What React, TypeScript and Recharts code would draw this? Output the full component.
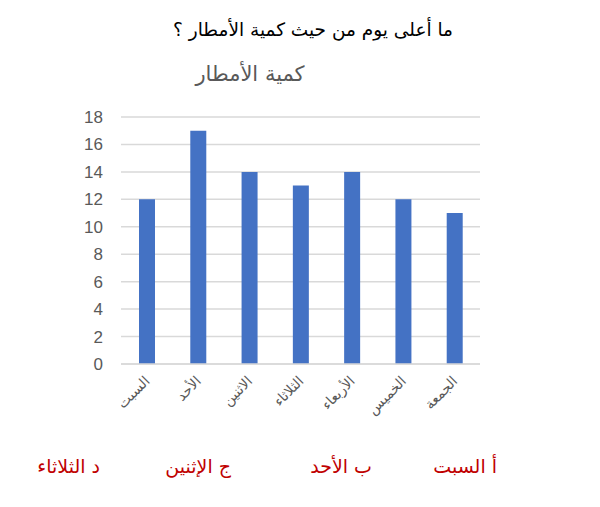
import React from "react";
import { BarChart, Bar, XAxis, YAxis, CartesianGrid } from "recharts";

const days = ["السبت", "الأحد", "الاثنين", "الثلاثاء", "الأربعاء", "الخميس", "الجمعة"];
const rain = [12, 17, 14, 13, 14, 12, 11];
const yTicks = [0, 2, 4, 6, 8, 10, 12, 14, 16, 18];

const question = "ما أعلى يوم من حيث كمية الأمطار ؟";
const chartTitle = "كمية الأمطار";
const choices = [
  { label: "أ السبت", right: 103 },
  { label: "ب الأحد", right: 228 },
  { label: "ج الإثنين", right: 369 },
  { label: "د الثلاثاء", right: 500 },
];

const data = days.map((d, i) => ({ day: d, value: rain[i] }));

const arabicFont = "'DejaVu Sans', sans-serif";

function DayTick(props: any) {
  const { x, y, payload } = props;
  return (
    <text
      x={x + 4}
      y={y + 10}
      transform={`rotate(-45, ${x + 4}, ${y + 10})`}
      textAnchor="end"
      fill="#595959"
      fontSize={14}
      fontFamily={arabicFont}
    >
      {payload.value}
    </text>
  );
}

export default function App() {
  return (
    <div style={{ position: "absolute", left: 0, top: 0, width: 600, height: 507, background: "#fff", overflow: "hidden" }}>
      <div style={{ position: "absolute", right: 147, top: 19, direction: "rtl", fontFamily: arabicFont, fontSize: 18.5, color: "#000" }}>
        {question}
      </div>
      <div style={{ position: "absolute", left: 190, width: 120, top: 62, textAlign: "center", direction: "rtl", fontFamily: arabicFont, fontSize: 21, color: "#595959" }}>
        {chartTitle}
      </div>

      <BarChart width={600} height={507} data={data} margin={{ top: 117, right: 120, left: 0, bottom: 83 }}>
        <CartesianGrid vertical={false} stroke="#d9d9d9" strokeWidth={1.5} />
        <XAxis
          dataKey="day"
          axisLine={{ stroke: "#d9d9d9", strokeWidth: 1.5 }}
          tickLine={false}
          tick={<DayTick />}
          interval={0}
          height={60}
        />
        <YAxis
          domain={[0, 18]}
          ticks={yTicks}
          interval={0}
          width={121}
          axisLine={false}
          tickLine={false}
          tickMargin={12}
          tick={{ fill: "#595959", fontSize: 17, fontFamily: "'Liberation Sans', sans-serif" }}
        />
        <Bar dataKey="value" fill="#4472c4" barSize={16} isAnimationActive={false} />
      </BarChart>

      {choices.map((c) => (
        <div
          key={c.label}
          style={{ position: "absolute", right: c.right, top: 455, direction: "rtl", fontFamily: arabicFont, fontSize: 19, color: "#c00000", whiteSpace: "nowrap" }}
        >
          {c.label}
        </div>
      ))}
    </div>
  );
}
